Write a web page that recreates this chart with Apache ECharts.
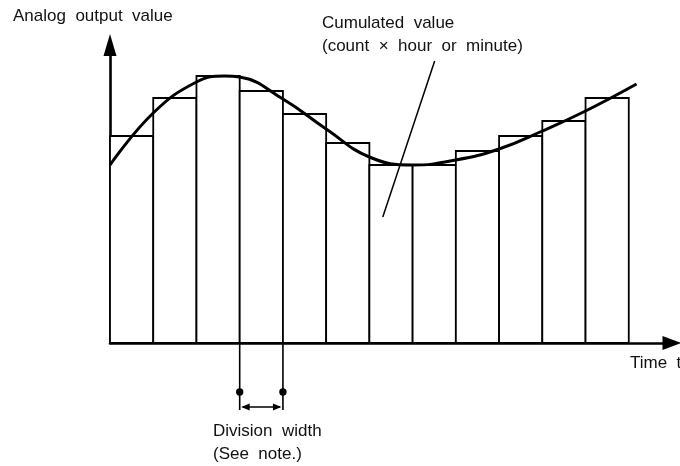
<!DOCTYPE html>
<html>
<head>
<meta charset="utf-8">
<script src="https://cdn.jsdelivr.net/npm/echarts@6/dist/echarts.min.js"></script>
<style>
  html, body { margin: 0; padding: 0; background: #fff; }
  #chart { width: 680px; height: 466px; }
</style>
</head>
<body>
<div id="chart"></div>
<script>
// Analog output sampled into equal divisions; each division's bar height is its cumulated value.
const divisionValues = [207, 245, 267, 252, 229, 200, 178, 178, 192, 207, 222, 245];

// Continuous analog output over time (time in division units).
const curveTime  = [0, 1, 2, 2.65, 3, 4, 5, 6, 7, 8, 9, 10, 11, 12.18];
const curveValue = [178, 230, 261, 267, 266, 244, 214, 186, 178, 183, 194, 212, 232, 259];

// Labels are set with wide word spacing.
const yAxisTitle = 'Analog  output  value';
const xAxisTitle = 'Time  t';
const noteLines = ['Cumulated  value', '(count  \u00d7  hour  or  minute)'];
const divisionLines = ['Division  width', '(See  note.)'];

const FONT = '"Liberation Sans", Arial, Helvetica, sans-serif';

const barData = divisionValues.map((v, i) => [i, i + 1, v]);
const curveData = curveTime.map((t, i) => [t, curveValue[i]]);

const chart = echarts.init(document.getElementById('chart'), null, { renderer: 'canvas' });

chart.setOption({
  animation: false,
  backgroundColor: '#fff',
  grid: { left: 110, right: 8, top: 45, bottom: 123, containLabel: false },
  xAxis: {
    type: 'value', min: 0, max: 13,
    axisLine: { show: true, lineStyle: { color: '#000', width: 2.6 }, symbol: ['none', 'triangle'], symbolSize: [14, 19] },
    axisTick: { show: false }, axisLabel: { show: false }, splitLine: { show: false }
  },
  yAxis: {
    type: 'value', min: 0, max: 298,
    axisLine: { show: true, lineStyle: { color: '#000', width: 2.6 }, symbol: ['none', 'triangle'], symbolSize: [13, 22] },
    axisTick: { show: false }, axisLabel: { show: false }, splitLine: { show: false }
  },
  series: [
    {
      type: 'custom',
      data: barData,
      z: 2,
      renderItem: function (params, api) {
        const p0 = api.coord([api.value(0), 0]);
        const p1 = api.coord([api.value(1), api.value(2)]);
        return {
          type: 'rect',
          shape: { x: p0[0], y: p1[1], width: p1[0] - p0[0], height: p0[1] - p1[1] },
          style: { fill: '#fff', stroke: '#000', lineWidth: 1.8 }
        };
      }
    },
    {
      type: 'line',
      data: curveData,
      smooth: 0.45,
      showSymbol: false,
      z: 5,
      lineStyle: { color: '#000', width: 3 }
    }
  ]
});

function px(x, y) { return chart.convertToPixel({ gridIndex: 0 }, [x, y]); }

function text(str, x, y, size) {
  return {
    type: 'text', x: x, y: y, z: 100, silent: true,
    style: { text: str, font: (size || 17) + 'px ' + FONT, fill: '#111', align: 'left', verticalAlign: 'middle' }
  };
}

// Leader line from the note into one of the bars
const leadTop = px(7.51, 282);
const leadBottom = px(6.31, 126);

// Division width markers below the axis, at the edges of the fourth division
const dA = px(3, 0);
const dB = px(4, 0);
const markLen = 67, dotY = dA[1] + 49, arrY = dA[1] + 64;
const lineStyle = { stroke: '#000', lineWidth: 1.6 };

const graphics = [
  text(yAxisTitle, 13, 16),
  text(noteLines[0], 322, 23),
  text(noteLines[1], 322, 46.5),
  text(xAxisTitle, 630, 363.5),
  text(divisionLines[0], 213, 431),
  text(divisionLines[1], 213, 454.5),
  { type: 'line', z: 100, silent: true, shape: { x1: leadTop[0], y1: leadTop[1], x2: leadBottom[0], y2: leadBottom[1] }, style: { stroke: '#000', lineWidth: 1.5 } },
  { type: 'line', z: 100, silent: true, shape: { x1: dA[0], y1: dA[1], x2: dA[0], y2: dA[1] + markLen }, style: lineStyle },
  { type: 'line', z: 100, silent: true, shape: { x1: dB[0], y1: dB[1], x2: dB[0], y2: dB[1] + markLen }, style: lineStyle },
  { type: 'circle', z: 100, silent: true, shape: { cx: dA[0], cy: dotY, r: 3.7 }, style: { fill: '#000' } },
  { type: 'circle', z: 100, silent: true, shape: { cx: dB[0], cy: dotY, r: 3.7 }, style: { fill: '#000' } },
  { type: 'line', z: 100, silent: true, shape: { x1: dA[0] + 3, y1: arrY, x2: dB[0] - 3, y2: arrY }, style: lineStyle },
  { type: 'polygon', z: 100, silent: true, shape: { points: [[dA[0] + 1.5, arrY], [dA[0] + 10, arrY - 3.5], [dA[0] + 10, arrY + 3.5]] }, style: { fill: '#000' } },
  { type: 'polygon', z: 100, silent: true, shape: { points: [[dB[0] - 1.5, arrY], [dB[0] - 10, arrY - 3.5], [dB[0] - 10, arrY + 3.5]] }, style: { fill: '#000' } }
];

chart.setOption({ graphic: graphics });
</script>
</body>
</html>
